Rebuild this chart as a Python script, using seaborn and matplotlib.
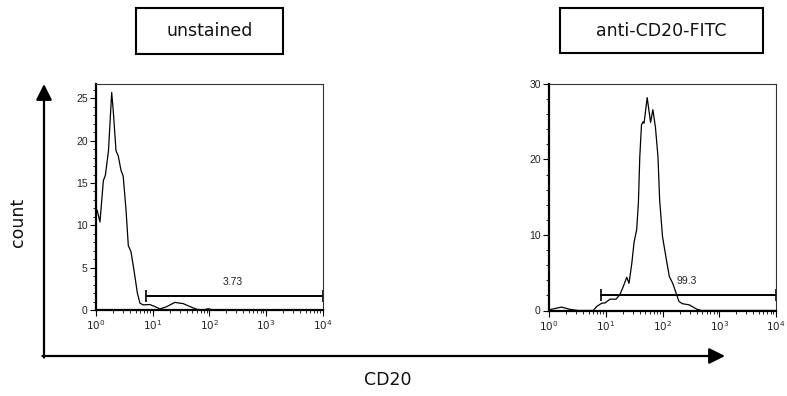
#!/usr/bin/env python3
"""Flow cytometry histograms: CD20 staining, unstained vs anti-CD20-FITC."""

import matplotlib

matplotlib.use("Agg")

import matplotlib.pyplot as plt
import numpy as np
import pandas as pd
import seaborn as sns
from matplotlib.patches import FancyArrowPatch, Rectangle
from matplotlib.ticker import LogLocator, MultipleLocator, NullFormatter

# curve points (x as log10 of intensity)
UNSTAINED_LOG = [0.02, 0.07, 0.13, 0.165, 0.22, 0.277, 0.305, 0.353, 0.393, 0.441,
                 0.48, 0.53, 0.57, 0.617, 0.67, 0.73, 0.776, 0.835, 0.95, 1.04,
                 1.13, 1.25, 1.39, 1.54, 1.66, 1.78, 1.89, 1.98, 2.07, 2.5, 4.0]
UNSTAINED_COUNT = [11.8, 10.4, 15.3, 15.9, 18.8, 25.7, 23.5, 18.8, 18.2, 16.5,
                   15.8, 11.8, 7.6, 6.9, 4.7, 2.0, 0.8, 0.6, 0.65, 0.4,
                   0.12, 0.4, 0.9, 0.75, 0.4, 0.08, 0.0, 0.15, 0.0, 0.0, 0.0]

STAINED_LOG = [0.005, 0.22, 0.37, 0.52, 0.78, 0.84, 0.93, 0.987, 1.075, 1.18,
               1.25, 1.31, 1.37, 1.41, 1.46, 1.5, 1.545, 1.575, 1.6, 1.63,
               1.657, 1.675, 1.73, 1.79, 1.83, 1.875, 1.92, 1.95, 2.0, 2.06,
               2.12, 2.18, 2.24, 2.29, 2.35, 2.47, 2.54, 2.61, 2.69, 4.0]
STAINED_COUNT = [0.1, 0.45, 0.15, 0.0, 0.0, 0.53, 0.97, 1.0, 1.5, 1.5,
                 2.1, 3.2, 4.4, 3.6, 6.3, 9.1, 10.7, 14.2, 20.4, 24.6,
                 25.0, 24.8, 28.2, 24.9, 26.6, 24.3, 20.4, 14.6, 9.8, 7.1,
                 4.5, 3.6, 2.3, 1.2, 0.9, 0.75, 0.45, 0.15, 0.0, 0.0]

TITLES = ["unstained", "anti-CD20-FITC"]
GATE_LO = [7.6, 8.1]
GATE_HI = [1e4, 1e4]
GATE_Y = [1.6, 2.0]
GATE_PCT = ["3.73", "99.3"]
GATE_LABEL_X = [262, 265]
GATE_LABEL_Y = [2.75, 3.2]
Y_MAX = [26.7, 30]
Y_MAJOR = [5, 10]
Y_MINOR = [1, 2]


def main() -> None:
    sns.set_theme(style="white")
    plt.rcParams["font.family"] = ["DejaVu Sans"]
    plt.rcParams["mathtext.fontset"] = "custom"
    plt.rcParams["mathtext.rm"] = "Liberation Sans"
    plt.rcParams["mathtext.default"] = "regular"

    W, H = 787, 396
    fig = plt.figure(figsize=(W / 100, H / 100), dpi=100)

    frames = [
        pd.DataFrame({"cd20": 10 ** np.array(UNSTAINED_LOG), "count": UNSTAINED_COUNT}),
        pd.DataFrame({"cd20": 10 ** np.array(STAINED_LOG), "count": STAINED_COUNT}),
    ]
    # axes boxes in pixels: (left, top, right, bottom)
    boxes = [(96, 84, 322.7, 310), (549, 84, 776, 310.5)]
    title_boxes = [(136, 8, 283, 54), (560, 8, 762.7, 53)]

    for i, df in enumerate(frames):
        l, t, r, b = boxes[i]
        ax = fig.add_axes([l / W, 1 - b / H, (r - l) / W, (b - t) / H])
        sns.lineplot(data=df, x="cd20", y="count", color="black", lw=0.9,
                     sort=False, ax=ax)
        ax.set_xscale("log")
        ax.set_xlim(1, 1e4)
        ax.set_ylim(0, Y_MAX[i])
        ax.set_xlabel("")
        ax.set_ylabel("")

        ax.xaxis.set_major_locator(LogLocator(base=10, numticks=10))
        ax.xaxis.set_minor_locator(LogLocator(base=10, subs=np.arange(2, 10), numticks=20))
        ax.xaxis.set_minor_formatter(NullFormatter())
        ax.yaxis.set_major_locator(MultipleLocator(Y_MAJOR[i]))
        ax.yaxis.set_minor_locator(MultipleLocator(Y_MINOR[i]))
        ax.tick_params(which="both", direction="out", color="black", labelsize=7.5,
                       labelcolor="#222222", bottom=True, left=True, pad=2)
        ax.tick_params(which="major", length=4, width=0.8)
        ax.tick_params(which="minor", length=2.5, width=0.6)
        for lab in ax.get_yticklabels():
            lab.set_fontfamily("Liberation Sans")

        for side in ("left", "bottom"):
            ax.spines[side].set_linewidth(1.6)
            ax.spines[side].set_color("black")
        for side in ("top", "right"):
            ax.spines[side].set_linewidth(0.8)
            ax.spines[side].set_color("#333333")

        # gate
        ax.plot([GATE_LO[i], GATE_HI[i]], [GATE_Y[i], GATE_Y[i]], color="black",
                lw=1.4, marker="|", markersize=9, markeredgewidth=1.2, clip_on=False)
        ax.text(GATE_LABEL_X[i], GATE_LABEL_Y[i], GATE_PCT[i], fontsize=7.5,
                family="Liberation Sans", ha="center", va="bottom", color="#222222")

        bl, bt, br, bb = title_boxes[i]
        fig.add_artist(Rectangle((bl / W, 1 - bb / H), (br - bl) / W, (bb - bt) / H,
                                 transform=fig.transFigure, fill=False,
                                 edgecolor="black", lw=1.5))
        fig.text((bl + br) / 2 / W, 1 - (bt + bb) / 2 / H, TITLES[i], fontsize=12.5,
                 ha="center", va="center", color="#111111")

    # axis arrows
    ox, oy = 44 / W, 1 - 356 / H
    fig.add_artist(FancyArrowPatch((ox, oy - 0.004), (ox, 1 - 84 / H),
                                   transform=fig.transFigure, arrowstyle="-|>",
                                   mutation_scale=24, lw=1.6, color="black",
                                   shrinkA=0, shrinkB=0))
    fig.add_artist(FancyArrowPatch((ox - 0.002, oy), (725 / W, oy),
                                   transform=fig.transFigure, arrowstyle="-|>",
                                   mutation_scale=24, lw=1.6, color="black",
                                   shrinkA=0, shrinkB=0))
    fig.text(18 / W, 1 - 222 / H, "count", rotation=90, fontsize=12.5,
             ha="center", va="center", color="#111111")
    fig.text(388 / W, 1 - 380 / H, "CD20", fontsize=12.5,
             ha="center", va="center", color="#111111")

    fig.savefig("out.png", dpi=100)


if __name__ == "__main__":
    main()
